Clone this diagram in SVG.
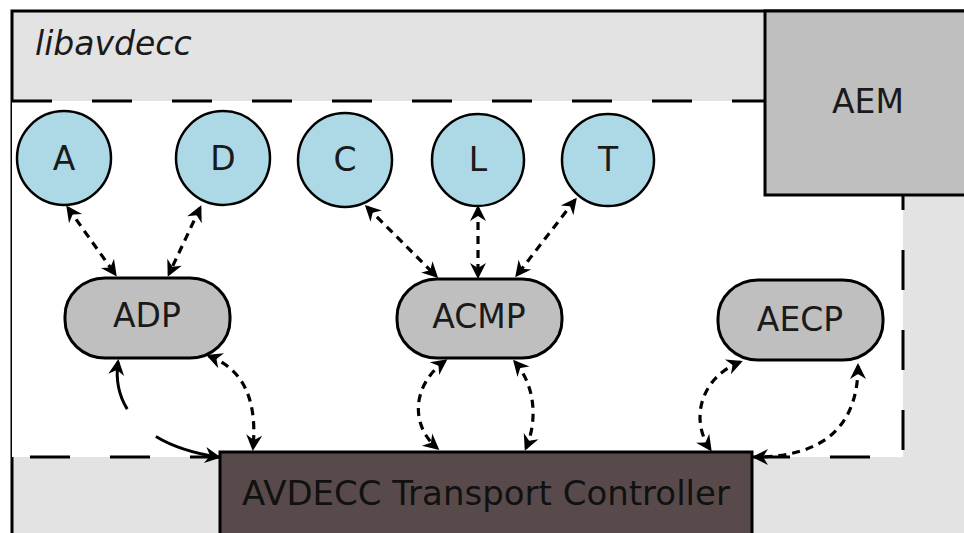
<svg xmlns="http://www.w3.org/2000/svg" width="964" height="533" viewBox="0 0 964 533">
  <style>
    text { font-family: "DejaVu Sans", "Liberation Sans", sans-serif; font-size: 33px; fill: #1a1a1a; text-anchor: middle; }
    .frame { fill: #e3e3e3; stroke: #000; stroke-width: 3; }
    .area { fill: #fff; stroke: none; }
    .bound { stroke: #000; stroke-width: 3; stroke-dasharray: 40 40; fill: none; }
    .entity { fill: #add8e6; stroke: #000; stroke-width: 2.5; }
    .proto { fill: #bfbfbf; stroke: #000; stroke-width: 3; }
    .box { stroke: #000; stroke-width: 3; }
    .link { fill: none; stroke: #000; stroke-width: 3.2; stroke-dasharray: 8 6; marker-start: url(#head); marker-end: url(#head); }
    .link-long { fill: none; stroke: #000; stroke-width: 3; stroke-dasharray: 49 40 90; marker-start: url(#head); marker-end: url(#head); }
  </style>
  <defs>
    <marker id="head" viewBox="-16 -9 20 18" refX="0" refY="0" markerWidth="20" markerHeight="18" markerUnits="userSpaceOnUse" orient="auto-start-reverse">
      <path d="M3,0 L-13,-8 L-8,0 L-13,8 Z" fill="#000"/>
    </marker>
  </defs>

  <!-- library frame -->
  <g id="libavdecc">
    <rect class="frame" x="12" y="11" width="1000" height="600"/>
    <rect class="area" x="12" y="101" width="891" height="356"/>
    <line class="bound" x1="12" y1="101" x2="765" y2="101"/>
    <line class="bound" x1="903" y1="457" x2="903" y2="195" stroke-dashoffset="73"/>
    <line class="bound" x1="12" y1="457" x2="903" y2="457" stroke-dashoffset="62"/>
    <text x="35" y="55" style="font-style: italic; text-anchor: start;">libavdecc</text>
  </g>

  <g id="aem">
    <rect class="proto" x="765" y="11" width="260" height="184"/>
    <text x="868" y="113">AEM</text>
  </g>

  <!-- entity objects -->
  <g id="node-a">
    <circle class="entity" cx="64" cy="158" r="47"/>
    <text x="64" y="170">A</text>
  </g>
  <g id="node-d">
    <circle class="entity" cx="223" cy="158" r="47"/>
    <text x="223" y="170">D</text>
  </g>
  <g id="node-c">
    <circle class="entity" cx="345" cy="160" r="47"/>
    <text x="345" y="171">C</text>
  </g>
  <g id="node-l">
    <circle class="entity" cx="478" cy="160" r="46"/>
    <text x="478" y="171">L</text>
  </g>
  <g id="node-t">
    <circle class="entity" cx="608" cy="160" r="46"/>
    <text x="608" y="171">T</text>
  </g>

  <!-- protocol state machines -->
  <g id="node-adp">
    <rect class="proto" x="65" y="278" width="165" height="80" rx="40" ry="38"/>
    <text x="147" y="327">ADP</text>
  </g>
  <g id="node-acmp">
    <rect class="proto" x="397" y="279" width="165" height="79" rx="40" ry="38"/>
    <text x="479" y="328">ACMP</text>
  </g>
  <g id="node-aecp">
    <rect class="proto" x="718" y="280" width="165" height="80" rx="40" ry="38"/>
    <text x="800" y="331">AECP</text>
  </g>

  <g id="node-controller">
    <rect class="box" x="220" y="452" width="532" height="120" fill="#584a4a"/>
    <text x="486" y="505" style="fill: #111; font-size: 34px;">AVDECC Transport Controller</text>
  </g>

  <!-- connectors -->
  <g id="connectors">
    <path class="link" d="M 68,208 L 115,274"/>
    <path class="link" d="M 200,208 L 169,274"/>
    <path class="link" d="M 367,207 L 436,276"/>
    <path class="link" d="M 478,208 L 478,276"/>
    <path class="link" d="M 575,200 L 517,275"/>
    <path class="link" d="M 209,356 C 240,368 258,395 253,448"/>
    <path class="link-long" d="M 118,362 C 112,405 140,445 218,457"/>
    <path class="link" d="M 445,361 C 412,385 410,425 437,448"/>
    <path class="link" d="M 515,362 C 535,385 538,420 526,448"/>
    <path class="link" d="M 740,362 C 700,378 690,420 710,449"/>
    <path class="link" d="M 858,366 C 858,425 825,457 755,457"/>
  </g>
</svg>
